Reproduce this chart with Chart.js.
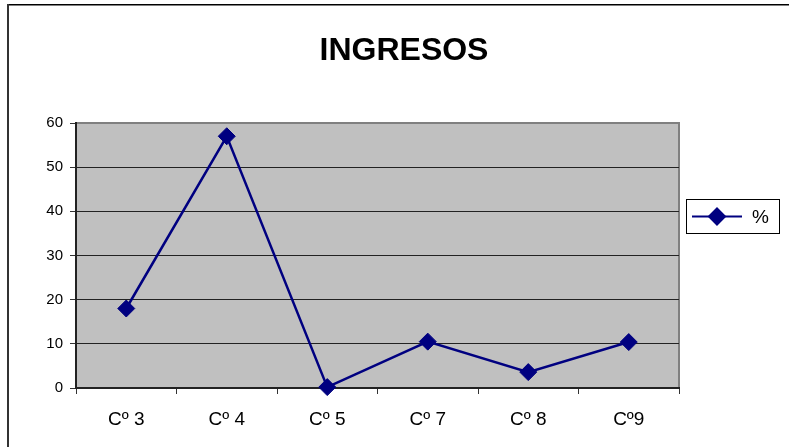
<!DOCTYPE html>
<html>
<head>
<meta charset="utf-8">
<script src="https://cdn.jsdelivr.net/npm/chart.js@4/dist/chart.umd.min.js"></script>
<style>
body{margin:0;background:#fff;}
#wrap{position:relative;width:789px;height:447px;}
</style>
</head>
<body>
<div id="wrap"><canvas id="myChart" width="789" height="447"></canvas></div>
<script>
// Donnees
var categories = ['Cº 3', 'Cº 4', 'Cº 5', 'Cº 7', 'Cº 8', 'Cº9'];
var valeurs = [18, 57, 0.2, 10.5, 3.6, 10.4];
var serie_label = '%';
var titre = 'INGRESOS';
var y_min = 0;
var y_max = 60;
var y_pas = 10;

var navy = '#000080';
var police = "'Liberation Sans', Arial, sans-serif";

// fond gris + cadre + legende
var decor = {
	id: 'decor',
	beforeDraw: function(chart){
		var c = chart.ctx;
		var a = chart.chartArea;
		c.save();
		// cadre exterieur (haut + gauche)
		c.fillStyle = '#000';
		c.fillRect(8, 4, chart.width - 8, 1.5);
		c.fillStyle = '#333';
		c.fillRect(7, 4, 2, chart.height - 4);
		// zone de trace
		c.fillStyle = '#c0c0c0';
		c.fillRect(a.left, a.top, a.right - a.left, a.bottom - a.top);
		c.strokeStyle = '#808080';
		c.lineWidth = 2;
		c.strokeRect(a.left, a.top, a.right - a.left, a.bottom - a.top);
		c.restore();
	},
	afterDraw: function(chart){
		var c = chart.ctx;
		var ds = chart.data.datasets[0];
		c.save();
		c.strokeStyle = '#000';
		c.lineWidth = 1;
		c.strokeRect(686.5, 199.5, 93, 34);
		c.strokeStyle = ds.borderColor;
		c.lineWidth = 2;
		c.beginPath();
		c.moveTo(692, 216.5);
		c.lineTo(742, 216.5);
		c.stroke();
		c.fillStyle = ds.backgroundColor;
		Chart.helpers.drawPoint(c, {pointStyle: 'rectRot', radius: 8, borderWidth: 1}, 717, 216.5);
		c.fillStyle = '#000';
		c.font = '19px ' + police;
		c.textBaseline = 'middle';
		c.fillText(ds.label, 752, 218);
		c.restore();
	}
};

const ctx = document.getElementById('myChart');
var lineChart = new Chart(ctx, {
	type: 'line',
	data: {
		labels: categories,
		datasets: [{
			label: serie_label,
			data: valeurs,
			borderColor: navy,
			backgroundColor: navy,
			borderWidth: 2.5,
			pointStyle: 'rectRot',
			pointRadius: 8.5,
			pointBorderWidth: 1,
			tension: 0,
			clip: false
		}]
	},
	options: {
		responsive: false,
		animation: false,
		layout: { padding: { left: 19, right: 0, top: 0, bottom: 0 } },
		plugins: {
			legend: { display: false },
			tooltip: { enabled: false },
			title: {
				display: true,
				text: titre,
				color: '#000',
				font: { family: police, size: 32, weight: 'bold' },
				padding: { top: 32, bottom: 52.6 }
			}
		},
		scales: {
			x: {
				offset: true,
				grid: {
					offset: true,
					drawOnChartArea: false,
					drawTicks: true,
					tickLength: 6,
					color: '#333'
				},
				border: { color: '#222', width: 2 },
				ticks: {
					color: '#000',
					padding: 14,
					maxRotation: 0,
					font: { family: police, size: 19 }
				},
				afterFit: function(s){ s.height = 59; }
			},
			y: {
				min: y_min,
				max: y_max,
				grid: {
					color: function(cx){ return cx.tick && cx.tick.value == y_max ? '#808080' : '#222'; },
					lineWidth: 1,
					tickLength: 6,
					tickColor: '#333'
				},
				border: { color: '#222', width: 2 },
				ticks: {
					stepSize: y_pas,
					color: '#000',
					padding: 7,
					font: { family: police, size: 15 }
				},
				afterFit: function(s){ s.width = 57; }
			},
			vide: {
				type: 'linear',
				position: 'right',
				display: true,
				grid: { display: false },
				border: { display: false },
				ticks: { display: false },
				afterFit: function(s){ s.width = 110; }
			}
		}
	},
	plugins: [decor]
});
</script>
</body>
</html>
